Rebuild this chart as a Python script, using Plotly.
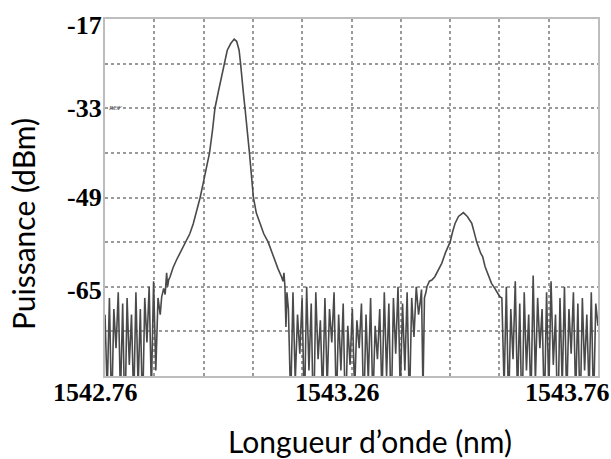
import numpy as np
import plotly.graph_objects as go

# ---------------- data ----------------
x_min, x_max = 1542.76, 1543.76
y_min, y_max = -81, -17

x_tick_labels = ["1542.76", "1543.26", "1543.76"]
x_tick_values = [1542.76, 1543.26, 1543.76]
y_tick_labels = ["-17", "-33", "-49", "-65"]
y_tick_values = [-17, -33, -49, -65]

# noise floor segments (sampled uniformly between start/stop)
noise_left_range = (1542.760, 1542.872)
noise_left = [-70, -84, -67, -88, -69, -76, -66, -85, -68, -90, -67, -79, -70,
              -86, -66, -83, -69, -88, -67, -75, -65, -84, -64, -80, -67, -70]

peak1_x = [1542.875, 1542.879, 1542.882, 1542.885, 1542.887, 1542.889, 1542.892,
           1542.898, 1542.905, 1542.914, 1542.924, 1542.932, 1542.939, 1542.946,
           1542.953, 1542.959, 1542.965, 1542.972, 1542.978, 1542.983, 1542.990,
           1542.997, 1543.003, 1543.008, 1543.015, 1543.022, 1543.027, 1543.032,
           1543.035, 1543.037, 1543.041, 1543.044, 1543.049, 1543.053, 1543.057,
           1543.061, 1543.067, 1543.074, 1543.082, 1543.091, 1543.098, 1543.105,
           1543.111, 1543.118, 1543.121, 1543.123, 1543.125, 1543.127, 1543.129]
peak1_y = [-66.8, -65.3, -66.4, -62.5, -65.0, -63.8, -63.2,
           -61.6, -60.2, -58.6, -57.0, -55.5, -53.7, -51.5,
           -49.0, -46.5, -43.8, -41.0, -37.0, -33.0, -30.0,
           -27.3, -24.5, -22.6, -21.4, -20.6, -21.0, -22.6,
           -25.0, -27.3, -30.5, -33.0, -37.0, -41.0, -45.0,
           -49.0, -51.8, -53.7, -55.5, -57.0, -58.8, -60.2,
           -61.8, -63.2, -64.0, -62.5, -65.0, -72.2, -66.0]

noise_mid_range = (1543.132, 1543.396)
noise_mid = [-69, -86, -66, -82, -70, -77, -67, -88, -65, -80, -68, -91, -66, -78,
             -71, -85, -67, -83, -69, -75, -66, -87, -70, -80, -68, -90, -72, -79,
             -69, -84, -71, -76, -68, -88, -70, -82, -67, -86, -72, -78, -69, -85,
             -66, -81, -68, -89, -67, -77, -65, -84, -68, -80, -66, -87, -67, -74,
             -65, -70]

peak2_x = [1543.399, 1543.402, 1543.405, 1543.408, 1543.411, 1543.413, 1543.418,
           1543.423, 1543.429, 1543.436, 1543.443, 1543.451, 1543.460, 1543.465,
           1543.470, 1543.477, 1543.487, 1543.495, 1543.504, 1543.509, 1543.514,
           1543.522, 1543.526, 1543.531, 1543.537, 1543.544, 1543.550, 1543.556,
           1543.561]
peak2_y = [-68.0, -65.5, -84.0, -67.0, -66.0, -65.0, -64.0,
           -63.8, -63.2, -62.0, -60.8, -58.8, -57.0, -55.2,
           -53.65, -52.4, -51.7, -52.4, -53.65, -55.3, -57.0,
           -59.0, -59.6, -61.4, -62.8, -64.4, -65.2, -66.0,
           -66.8]

noise_right_range = (1543.565, 1543.760)
noise_right = [-67, -83, -65, -87, -69, -78, -64, -85, -68, -90, -66, -80, -70, -86,
               -63, -82, -67, -76, -69, -88, -66, -84, -64, -79, -70, -91, -67, -83,
               -65, -86, -69, -77, -66, -85, -68, -89, -67, -80, -70, -84, -66, -87,
               -68, -72]

# ---------------- assemble trace ----------------
def seg(rng, vals):
    return list(np.linspace(rng[0], rng[1], len(vals))), list(vals)

xs, ys = [], []
for sx, sy in [seg(noise_left_range, noise_left), (peak1_x, peak1_y),
               seg(noise_mid_range, noise_mid), (peak2_x, peak2_y),
               seg(noise_right_range, noise_right)]:
    xs += list(sx)
    ys += list(sy)

grid_x = list(np.round(np.arange(x_min, x_max + 1e-9, 0.1), 2))
grid_y = list(range(y_min, y_max + 1, 8))

fig = go.Figure()
fig.add_trace(go.Scatter(x=xs, y=ys, mode="lines",
                         line=dict(color="#4a4a4a", width=1.6),
                         showlegend=False, hoverinfo="skip"))

tick_font = dict(family="Liberation Serif", size=26, color="black")

annotations = []
x_shifts = [-10, -14, -31]
for v, t, sh in zip(x_tick_values, x_tick_labels, x_shifts):
    annotations.append(dict(x=v, xref="x", y=-0.045, yref="paper",
                            text="<b>" + t + "</b>",
                            showarrow=False, xanchor="center", yanchor="middle",
                            xshift=sh, font=tick_font))
y_shifts = [-6, 0, 0, -4]
for v, t, sh in zip(y_tick_values, y_tick_labels, y_shifts):
    annotations.append(dict(x=0, xref="paper", y=v, yref="y",
                            text="<b>" + t + "</b>",
                            showarrow=False, xanchor="right", yanchor="middle",
                            xshift=-1, yshift=sh, font=tick_font))
annotations.append(dict(x=x_min, xref="x", y=-33, yref="y", text="<i>REF</i>",
                        showarrow=False, xanchor="left", yanchor="middle",
                        xshift=1, font=dict(family="Liberation Serif", size=7,
                                            color="#555")))
annotations.append(dict(x=0.5385, xref="paper", y=-0.182, yref="paper",
                        text="Longueur d’onde (nm)", showarrow=False,
                        xanchor="center", yanchor="middle",
                        font=dict(family="Lato", size=30, color="black")))
annotations.append(dict(x=-0.166, xref="paper", y=0.426, yref="paper",
                        text="Puissance (dBm)", showarrow=False, textangle=-90,
                        xanchor="center", yanchor="middle",
                        font=dict(family="Lato", size=30, color="black")))

fig.update_layout(
    width=611, height=459, autosize=False,
    margin=dict(l=105, r=13, t=19, b=83),
    paper_bgcolor="white", plot_bgcolor="white",
    annotations=annotations,
    xaxis=dict(range=[x_min, x_max], tickmode="array", tickvals=grid_x,
               showticklabels=False, ticks="", showgrid=True,
               gridcolor="#9a9a9a", griddash="dot", gridwidth=1.5,
               showline=True, linecolor="#bdbdbd", linewidth=2, mirror=True,
               zeroline=False, fixedrange=True),
    yaxis=dict(range=[y_min, y_max], tickmode="array", tickvals=grid_y,
               showticklabels=False, ticks="",
               showgrid=True, gridcolor="#9a9a9a", griddash="dot", gridwidth=1.5,
               showline=True, linecolor="#bdbdbd", linewidth=2, mirror=True,
               zeroline=False, fixedrange=True),
)

fig.write_html("out.html", config={"displayModeBar": False},
               post_script="document.body.style.margin='0px';"
                           "document.body.style.padding='0px';")
